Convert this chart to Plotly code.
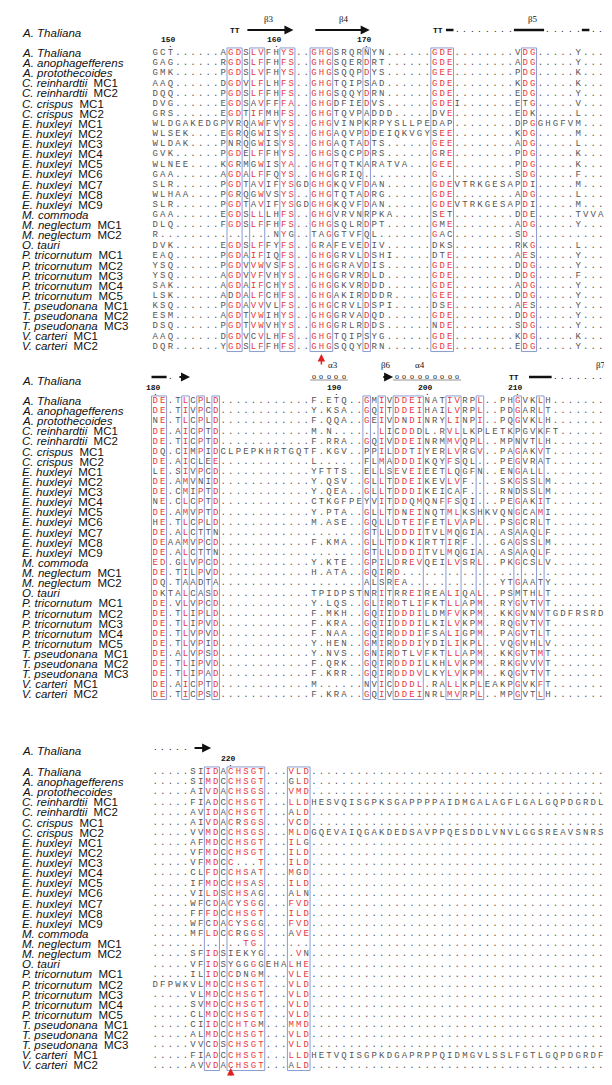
import plotly.graph_objects as go

names = ["A. Thaliana|", "A. anophagefferens|", "A. protothecoides|", "C. reinhardtii|MC1", "C. reinhardtii|MC2",
         "C. crispus|MC1", "C. crispus|MC2", "E. huxleyi|MC1", "E. huxleyi|MC2", "E. huxleyi|MC3", "E. huxleyi|MC4",
         "E. huxleyi|MC5", "E. huxleyi|MC6", "E. huxleyi|MC7", "E. huxleyi|MC8", "E. huxleyi|MC9", "M. commoda|",
         "M. neglectum|MC1", "M. neglectum|MC2", "O. tauri|", "P. tricornutum|MC1", "P. tricornutum|MC2",
         "P. tricornutum|MC3", "P. tricornutum|MC4", "P. tricornutum|MC5", "T. pseudonana|MC1", "T. pseudonana|MC2",
         "T. pseudonana|MC3", "V. carteri|MC1", "V. carteri|MC2"]

block1 = [
 "GCT......AGDSLVFHYS..GHGSRQRNYN......GDE........VDG.....Y...",
 "GAG......RGDSLFFHFS..GHGSQERDRT......GDE........ADG.....Y...",
 "GMK......PGDSLVFHYS..GHGSQQPDYS......GEE........PDG.....K...",
 "AAQ......DGDVLFLHFS..GHGTQIPSAD......GDE........KDG.....K...",
 "DQQ......PGDSLFFHFS..GHGSQQYDRN......GDE........EDG.....Y...",
 "DVG......EGDSAVFFFA..GHGDFIEDVS......GDEI.......ETG.....V...",
 "GRS......EGDTIFMHFS..GHGTQVPADDD.....DVE........EDK.....L...",
 "WLDGAKEDGPVRQAWFVYS..GHGVINPKRPYSLLPEDAP........DPGGHGFVM...",
 "WLSEK....EGRQGWISYS..GHGAQVPDDEIQKVGYSEE........KDG.....M...",
 "WLDAK....PNRQGWISYS..GHGAQTADTS......GEE........ADG.....L...",
 "GVK......PGDELFFHYS..GHGSQCPDRS......GRE........PDG.....K...",
 "WLNEE....KGRMGWISYA..GHGTQTKARATVA...GEE........PDG.....K...",
 "GAA......AGDALFFQYS..GHGGRIQ.........G..........SDG.....F...",
 "SLR......PGDTAVIFYSGDGHGKQVFDAN......GDEVTRKGESAPDI.....M...",
 "WLHAA....PGRQGWVSYS..GHGTQTADRG......GDE........ADG.....L...",
 "SLR......PGDTAVIFYSGDGHGKQVFDAN......GDEVTRKGESAPDI.....M...",
 "GAA......EGDSLLLHFS..GHGVRVNRPKA.....SET........DDE.....TVVA",
 "DLQ......FGDSLFFHFS..GHGSQLRDPT......GME........ADG.....Y...",
 "R...............NYG..TAGGTVFQL.......GAC........SD..........",
 "DVK......EGDSLFFYFS..GRAFEVEDIV......DKS........RKG.....L...",
 "EAQ......PGDAIFIQFS..GHGGRVLDSHI.....DTE........AES.....Y...",
 "YSQ......PGDVVWVSFS..GHGGRAVDIS......GDE........DDG.....Y...",
 "YSQ......AGDVVFVHYS..GHGGRVRDLD......GDE........DDG.....F...",
 "SAK......AGDAIFCHYS..GHGGKVRDDD......GDE........ADG.....Y...",
 "LSK......ADDALFCHFS..GHGAKIRDDDR.....GEE........DDG.....Y...",
 "KSQ......PGDAVVVLFS..GHGCRVLDSPI.....DSE........AES.....Y...",
 "ESM......AGDTVWIHYS..GHGGRVADQD......GDE........DDG.....Y...",
 "DSQ......PGDTVWVHYS..GHGGRLRDDS......NDE........SDG.....Y...",
 "AAQ......DGDVCVLHFS..GHGTQIPSYG......GDE........KDG.....K...",
 "DQR......YGDSLFFHFS..GHGSQQYDRN......GDE........EDG.....Y...",
]
block2 = [
 "DE.TLCPLD............F.ETQ..GMIVDDEINATIVRPL..PHGVKLH.......",
 "DE.TIVPCD............Y.KSA..GQITDDEIHAILVRPL..PDGARLT.......",
 "NE.TLCPLD............F.QQA..GEIVDNDINRYLINPI..PQGVKLH.......",
 "DE.AICPTD............M.N......LICDDDL.RVLLKPLETKPGVKFT.......",
 "DE.TICPTD............F.RRA..GQIVDDEINRMMVQPL..MPNVTLH.......",
 "DQ.CIMPIDCLPEPKHRTGQTF.KGV..PPILDDTIYERLVRGV..PAGAKVT.......",
 "DE.AICLEE............L......FLMADDDIKQYFSQL...PEGVRAT.......",
 "LE.SIVPCD............YFTTS..ELLSEVEIEETLQGFN..ENGALL........",
 "DE.AMVNID............Y.QSV..GLLTDDEIKEVLVF....SKGSSLM.......",
 "DE.CMIPTD............Y.QEA..GLLTDDDIKEICAF....RNDSSLM.......",
 "NE.CLCPTD............CTKGFPEYVITDDQMQNFFSQI...PEGAKIT.......",
 "DE.AMVPTD............Y.PTA..GLLTDNEINQTMLKSHKVQNGCAMI.......",
 "HE.TLCPLD............M.ASE..GQLLDTEIFETLVAPL..PSGCRLT.......",
 "DE.ALCTTN...................GTLLDDDITVLMQGIA..ASAAQLF.......",
 "DEAAMVPCD............F.KMA..GLLTDDKIRTTIRF....GAGSSLM.......",
 "DE.ALCTTN...................GTLLDDDITVLMQGIA..ASAAQLF.......",
 "ED.GLVPCD............Y.KTE..GPILDREVQEILVSRL..PKGCSLV.......",
 "DE.TILPVD............H.ATA..GQIRD...........................",
 "DQ.TAADTA...................ALSREA............YTGAATY.......",
 "DKTALCASD............TPIDPSTNRITRREIREALIQAL..PSMTHLT.......",
 "DE.VLVPCD............Y.LQS..GLIRDTLIFKTLLAPM..RYGVTVT.......",
 "DE.TLIPLD............F.MKH..GQIIDDDILDMFVKPM..KKGVNVTGDFRSRD",
 "DE.TLIPVD............F.KRA..GQIIDDDILKILVKPM..RQGVTVT.......",
 "DE.TLVPVD............F.NAA..GQIRDDDIFSALIGPM..PAGVTLT.......",
 "DE.TLVPID............Y.HEN..GMIRDDDIYDILIKPL..VQGVHLV.......",
 "DE.ALVPSD............Y.NVS..GNIRDTLVFKTLLAPM..KKGVTMT.......",
 "DE.TLIPVD............F.QRK..GQIRDDDILKHLVKPM..RKGVVVT.......",
 "DE.TLIPAD............F.KRR..GQIRDDDVLKYLVKPM..KQGVTVT.......",
 "DE.AICPTD............M......NVICDDDL.RALLKPLEAKPGVKFT.......",
 "DE.TICPSD............F.KRA..GQIVDDEINRLMVRPL..MPGVTLH.......",
]
D39 = "......................................."
block3 = [
 ".....SIIDACHSGT...VLD" + D39,
 ".....SIMDCCHSGT...GLD" + D39,
 ".....AIVDACHSGS...VMD" + D39,
 ".....FIADCCHSGT...LLDHESVQISGPKSGAPPPPAIDMGALAGFLGALGQPDGRDL",
 ".....AVIDACHSGT...ALD" + D39,
 ".....AIVDACRSGS...VCD" + D39,
 ".....VVMDCCHSGS...MLDGQEVAIQGAKDEDSAVPPQESDDLVNVLGGSREAVSNRS",
 ".....AFMDCCHSGT...ILG" + D39,
 ".....VFMDCCHSGT...ILD" + D39,
 ".....VFMDCC...T...ILD" + D39,
 ".....CLFDCCHSAT...MGD" + D39,
 ".....IFMDCCHSAS...ILD" + D39,
 ".....VILDSCHSAG...ALN" + D39,
 ".....WFCDACYSGG...FVD" + D39,
 ".....FFFDCCHSGT...ILD" + D39,
 ".....WFCDACYSGG...FVD" + D39,
 ".....MFLDCCRGGS...AVE" + D39,
 "............TG......." + D39,
 ".....SFIDSIEKYG....VN" + D39,
 ".....VFIDSYGGGGEHALHE" + D39,
 ".....ILIDCCDNGM...VLE" + D39,
 "DFPWKVLMDCCHSGT...VLD" + D39,
 ".....VLMDCCHSGT...VLD" + D39,
 ".....SVMDCCHSGT...VLD" + D39,
 ".....CLMDCCHSGT...VLD" + D39,
 ".....CIIDCCHTGM...MMD" + D39,
 ".....ALMDCCHSGT...VLD" + D39,
 ".....VVCDSCHSGT...VLD" + D39,
 ".....FIADCCHSGT...LLDHETVQISGPKDGAPRPPQIDMGVLSSLFGTLGQPDGRDF",
 ".....AVVDACHSGT...ALD" + D39,
]
boxes1 = [(10, 11), (13, 14), (17, 18), (21, 23), (28, 28), (37, 39), (49, 50)]
boxes2 = [(0, 1), (4, 4), (6, 6), (8, 8), (28, 28), (30, 30), (32, 35), (39, 40), (43, 43), (48, 48), (51, 51)]
boxes3 = [(7, 8), (10, 14), (18, 20)]
rulers1 = [("150", 2), ("160", 16), ("170", 28)]
rulers2 = [("180", 0), ("190", 24), ("200", 36), ("210", 48)]
rulers3 = [("220", 10)]

X0, CW, RH = 151.5, 7.55, 10.12
OFF = 8  # default page margin of the html body
blocks = [
    dict(seqs=block1, boxes=boxes1, rul=rulers1, top=53, head=33),
    dict(seqs=block2, boxes=boxes2, rul=rulers2, top=401, head=381),
    dict(seqs=block3, boxes=boxes3, rul=rulers3, top=772, head=751),
]
groups = ["ILVMFWY", "DE", "NQ", "KR", "STA", "G", "H", "C", "P"]
def grp(c):
    for g in groups:
        if c in g:
            return g
    return c

RED, BLK, BOX = "#e8383d", "#555555", "#8c9bd0"
fig = go.Figure()
shapes, ann = [], []
def cx(c):
    return X0 + (c + 0.5) * CW

for b in blocks:
    seqs, top = b["seqs"], b["top"]
    boxcols = set()
    for a, z in b["boxes"]:
        boxcols.update(range(a, z + 1))
        shapes.append(dict(type="rect", x0=X0 + a * CW, x1=X0 + (z + 1) * CW,
                           y0=top - RH / 2, y1=top + (len(seqs) - 0.5) * RH,
                           line=dict(color=BOX, width=1)))
    red = {}
    for c in boxcols:
        cnt = {}
        for s in seqs:
            if s[c] != ".":
                cnt[grp(s[c])] = cnt.get(grp(s[c]), 0) + 1
        red[c] = max(cnt, key=cnt.get) if cnt else None
    xs = {"r": [], "k": []}; ys = {"r": [], "k": []}; ts = {"r": [], "k": []}
    for i, s in enumerate(seqs):
        for c, ch in enumerate(s):
            k = "r" if (c in boxcols and ch != "." and grp(ch) == red[c]) else "k"
            xs[k].append(cx(c)); ys[k].append(top + i * RH); ts[k].append(ch)
    for k, col in (("r", RED), ("k", BLK)):
        fig.add_trace(go.Scatter(x=xs[k], y=ys[k], text=ts[k], mode="text",
                                 textfont=dict(family="Liberation Mono", size=9, color=col),
                                 hoverinfo="skip", showlegend=False))
    for i, n in enumerate(names):
        sp, mc = n.split("|")
        ann.append(dict(x=20, y=top + i * RH, text="<i>" + sp + "</i>" + ("  " + mc if mc else ""),
                        xanchor="left", yanchor="middle", showarrow=False,
                        font=dict(family="Liberation Sans", size=11.5, color="#111")))
    ann.append(dict(x=20, y=b["head"], text="<i>A. Thaliana</i>", xanchor="left", yanchor="middle",
                    showarrow=False, font=dict(family="Liberation Sans", size=11.5, color="#111")))
    for lab, c in b["rul"]:
        ann.append(dict(x=cx(c) - CW * 1.5, y=top - 14, text="<b>" + lab + "</b>", xanchor="left", yanchor="middle",
                        showarrow=False, font=dict(family="Liberation Mono", size=8, color="#111")))
        ann.append(dict(x=cx(c), y=top - 9, text=".", showarrow=False, yanchor="middle",
                        font=dict(family="Liberation Mono", size=8, color="#111")))

def txt(x, y, t, size=9, fam="Liberation Serif", bold=False):
    ann.append(dict(x=x, y=y, text=("<b>%s</b>" % t) if bold else t, showarrow=False,
                    xanchor="center", yanchor="middle", font=dict(family=fam, size=size, color="#111")))
def arrow(c0, c1, y):
    ann.append(dict(x=cx(c1), y=y, ax=cx(c0), ay=y, axref="x", ayref="y", xref="x", yref="y",
                    showarrow=True, arrowhead=2, arrowsize=0.9, arrowwidth=2, arrowcolor="#111", text=""))
def bar(c0, c1, y):
    shapes.append(dict(type="line", x0=X0 + c0 * CW, x1=X0 + (c1 + 1) * CW, y0=y, y1=y,
                       line=dict(color="#111", width=2.5)))
def dots(c0, c1, y):
    for c in range(c0, c1 + 1):
        txt(cx(c), y - 1, ".", 8, "Liberation Mono")
def coil(c0, c1, y):
    for c in range(c0, c1 + 1):
        txt(cx(c), y - 1, "o", 8, "Liberation Serif")
    shapes.append(dict(type="line", x0=X0 + c0 * CW, x1=X0 + (c1 + 1) * CW, y0=y + 3, y1=y + 3,
                       line=dict(color="#777", width=0.8)))

y1 = 30
txt(cx(10.5), y1, "TT", 8, "Liberation Mono", True)
arrow(12, 18.3, y1); txt(cx(15), 19, "β3")
arrow(21, 28.4, y1); txt(cx(25), 19, "β4")
txt(cx(37.5), y1, "TT", 8, "Liberation Mono", True); bar(39, 39, y1)
dots(40, 47, y1); bar(48, 51, y1); txt(cx(50), 19, "β5")
dots(52, 56, y1); bar(57, 57, y1); dots(58, 59, y1)
y2 = 377
bar(0, 1, y2); dots(2, 2, y2); arrow(3, 4.6, y2)
coil(21, 25, y2); txt(cx(23.5), 365, "α3")
arrow(30, 31.5, y2); txt(cx(30.5), 365, "β6")
coil(32, 40, y2); txt(cx(35), 365, "α4")
txt(cx(47.5), y2, "TT", 8, "Liberation Mono", True); bar(50, 52, y2); dots(53, 59, y2)
txt(cx(59), 365, "β7")
y3 = 748
dots(0, 4, y3); arrow(5, 7.4, y3)
for c, yb, yt in ((22, 366, 354), (10, 1077, 1068)):
    ann.append(dict(x=cx(c), y=yt, ax=cx(c), ay=yb, axref="x", ayref="y", showarrow=True,
                    arrowhead=2, arrowsize=1, arrowwidth=1.5, arrowcolor="#e02020", text=""))

W, H = 612 - 2 * OFF, 1085 - 2 * OFF
fig.update_layout(width=W, height=H, margin=dict(l=0, r=0, t=0, b=0),
                  paper_bgcolor="white", plot_bgcolor="white", shapes=shapes, annotations=ann,
                  xaxis=dict(range=[OFF, OFF + W], visible=False, fixedrange=True),
                  yaxis=dict(range=[OFF + H, OFF], visible=False, fixedrange=True))
fig.write_html("out.html")
